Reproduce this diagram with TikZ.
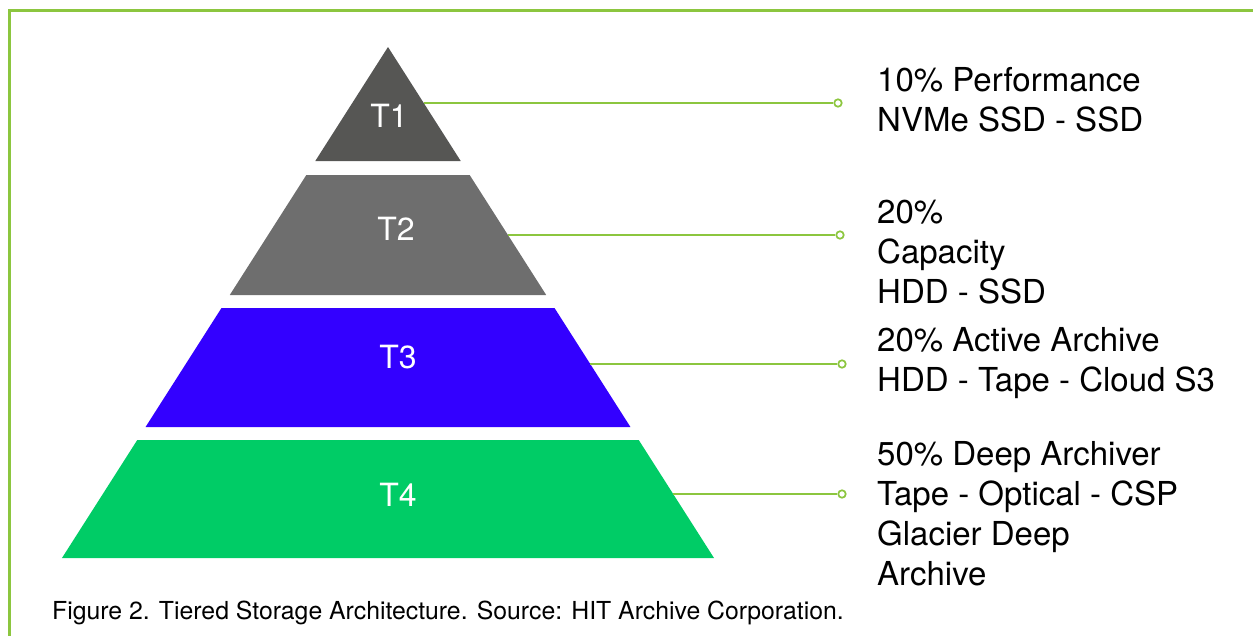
\documentclass[tikz,border=0pt]{standalone}
\usepackage{fontspec}
\setmainfont{TeX Gyre Heros}
\usetikzlibrary{calc}

\definecolor{framegreen}{HTML}{8CC63F}
\definecolor{tierone}{HTML}{565654}
\definecolor{tiertwo}{HTML}{6E6E6E}
\definecolor{tierthree}{HTML}{3300FF}
\definecolor{tierfour}{HTML}{00CC66}

% half-width growth of the pyramid per unit of height, apex position
\def\slope{0.638}
\def\apx{388}
\def\apy{47}

\tikzset{
  tierlabel/.style={text=white, font=\fontsize{32}{40}\selectfont, inner sep=0pt},
  desc/.style={anchor=base west, inner sep=0pt, font=\fontsize{33}{40}\selectfont, text=black},
  leader/.style={draw=framegreen, line width=1.8pt},
  tipdot/.style={circle, draw=framegreen, line width=1.7pt, fill=white, minimum size=7.5pt, inner sep=0pt},
  caption/.style={anchor=base west, inner sep=0pt, font=\fontsize{24.8}{28}\selectfont, text=black},
}

% trapezoid band of the pyramid between heights #2 and #3
\newcommand{\band}[3]{%
  \fill[#1] ({\apx-\slope*(#2-\apy)},#2) -- ({\apx+\slope*(#2-\apy)},#2)
    -- ({\apx+\slope*(#3-\apy)},#3) -- ({\apx-\slope*(#3-\apy)},#3) -- cycle;}

\begin{document}
\begin{tikzpicture}[x=1pt,y=-1pt]
\useasboundingbox (0,0) rectangle (1253,635);

% frame
\draw[framegreen, line width=3pt] (1260,10) -- (9,10) -- (9,645);

% pyramid tiers
\fill[tierone] (\apx,\apy) -- ({\apx+\slope*(161-\apy)},161) -- ({\apx-\slope*(161-\apy)},161) -- cycle;
\band{tiertwo}{175}{295}
\band{tierthree}{308}{427}
\band{tierfour}{440}{558}

\node[tierlabel] (t1) at (389,116) {T1};
\node[tierlabel] (t2) at (396,229) {T2};
\node[tierlabel] (t3) at (398,357) {T3};
\node[tierlabel] (t4) at (398,495) {T4};

% leader start points on the right edge of each tier
\coordinate (e1) at ({\apx+\slope*(103-\apy)},103);
\coordinate (e2) at ({\apx+\slope*(235-\apy)},235);
\coordinate (e3) at ({\apx+\slope*(364-\apy)},364);
\coordinate (e4) at ({\apx+\slope*(494-\apy)},494);

\node[tipdot] (d1) at (838,103) {};
\node[tipdot] (d2) at (840,235) {};
\node[tipdot] (d3) at (842,364) {};
\node[tipdot] (d4) at (842,494) {};

\draw[leader] (e1) -- (d1);
\draw[leader] (e2) -- (d2);
\draw[leader] (e3) -- (d3);
\draw[leader] (e4) -- (d4);

% descriptions
\node[desc] (a1) at (877,91)  {10\% Performance};
\node[desc] (a2) at (877,131) {NVMe SSD - SSD};

\node[desc] (b1) at (877,223) {20\%};
\node[desc] (b2) at (877,263) {Capacity};
\node[desc] (b3) at (877,303) {HDD - SSD};

\node[desc] (c1) at (877,351) {20\% Active Archive};
\node[desc] (c2) at (877,391) {HDD - Tape - Cloud S3};

\node[desc] (f1) at (877,465) {50\% Deep Archiver};
\node[desc] (f2) at (877,505) {Tape - Optical - CSP};
\node[desc] (f3) at (877,545) {Glacier Deep};
\node[desc] (f4) at (877,585) {Archive};

\node[caption] (cap) at (52,619) {Figure 2. Tiered Storage Architecture. Source: HIT Archive Corporation.};
\end{tikzpicture}
\end{document}
